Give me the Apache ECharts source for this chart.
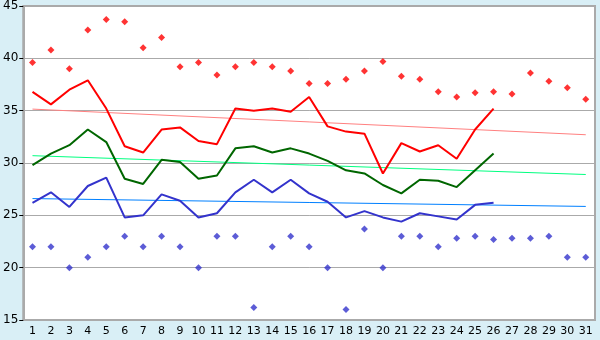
<!DOCTYPE html>
<html>
<head>
<meta charset="utf-8">
<script src="https://cdn.jsdelivr.net/npm/echarts@6/dist/echarts.min.js"></script>
<style>
html,body{margin:0;padding:0;background:#d9eff6;}
#main{width:600px;height:340px;}
</style>
</head>
<body>
<div id="main"></div>
<script>
// 日期 1..31
const days = ['1','2','3','4','5','6','7','8','9','10','11','12','13','14','15','16','17','18','19','20','21','22','23','24','25','26','27','28','29','30','31'];
const yTicks = [15, 45, 5];

// 最高点
const maxPoints = [39.6,40.8,39.0,42.7,43.7,43.5,41.0,42.0,39.2,39.6,38.4,39.2,39.6,39.2,38.8,37.6,37.6,38.0,38.8,39.7,38.3,38.0,36.8,36.3,36.7,36.8,36.6,38.6,37.8,37.2,36.1];
// 最低点
const minPoints = [22,22,20,21,22,23,22,23,22,20,23,23,16.2,22,23,22,20,16.0,23.7,20,23,23,22,22.8,23,22.7,22.8,22.8,23,21,21];

const redLine = [36.8,35.6,37.0,37.9,35.2,31.6,31.0,33.2,33.4,32.1,31.8,35.2,35.0,35.2,34.9,36.3,33.5,33.0,32.8,29.0,31.9,31.1,31.7,30.4,33.2,35.2];
const greenLine = [29.8,30.9,31.7,33.2,32.0,28.5,28.0,30.3,30.1,28.5,28.8,31.4,31.6,31.0,31.4,30.9,30.2,29.3,29.0,27.9,27.1,28.4,28.3,27.7,29.3,30.9];
const blueLine = [26.2,27.2,25.8,27.8,28.6,24.8,25.0,27.0,26.4,24.8,25.2,27.2,28.4,27.2,28.4,27.1,26.3,24.8,25.4,24.8,24.4,25.2,24.9,24.6,26.0,26.2];

// 趋势线 (首尾两点)
const redTrend = [['1',35.15],['31',32.7]];
const greenTrend = [['1',30.7],['31',28.9]];
const blueTrend = [['1',26.6],['31',25.85]];

const chart = echarts.init(document.getElementById('main'));

function lineSeries(data, color, width, z){
    return {
        type:'line',
        data:data,
        symbol:'none',
        animation:false,
        z:z,
        lineStyle:{color:color,width:width}
    }
}
function dotSeries(data, color){
    return {
        type:'scatter',
        data:data,
        symbol:'diamond',
        symbolSize:7,
        animation:false,
        z:10,
        itemStyle:{color:color}
    }
}

chart.setOption({
    backgroundColor:'#d9eff6',
    textStyle:{fontFamily:'DejaVu Sans'},
    grid:{
        left:20,
        right:5,
        top:5,
        bottom:20,
        show:true,
        backgroundColor:'#fff',
        borderColor:'#aaa',
        borderWidth:2
    },
    xAxis:{
        type:'category',
        data:days,
        boundaryGap:true,
        axisLine:{lineStyle:{color:'#aaa',width:2}},
        axisTick:{alignWithLabel:true,length:4,lineStyle:{color:'#000'}},
        axisLabel:{color:'#000',fontSize:11,margin:6,interval:0},
        splitLine:{show:false}
    },
    yAxis:{
        type:'value',
        min:yTicks[0],
        max:yTicks[1],
        interval:yTicks[2],
        axisLine:{show:true,lineStyle:{color:'#aaa',width:2}},
        axisTick:{show:true,length:4,lineStyle:{color:'#000'}},
        axisLabel:{color:'#000',fontSize:12,margin:5},
        splitLine:{lineStyle:{color:'#aaa',width:1}}
    },
    series:[
        lineSeries(redTrend,'#ff8080',1,2),
        lineSeries(greenTrend,'#00ff80',1,2),
        lineSeries(blueTrend,'#0080ff',1,2),
        lineSeries(redLine,'#ff0000',2,3),
        lineSeries(greenLine,'#006600',2,3),
        lineSeries(blueLine,'#3333cc',2,3),
        dotSeries(maxPoints,'#ff0000'),
        dotSeries(minPoints,'#3333cc')
    ]
});
</script>
</body>
</html>
